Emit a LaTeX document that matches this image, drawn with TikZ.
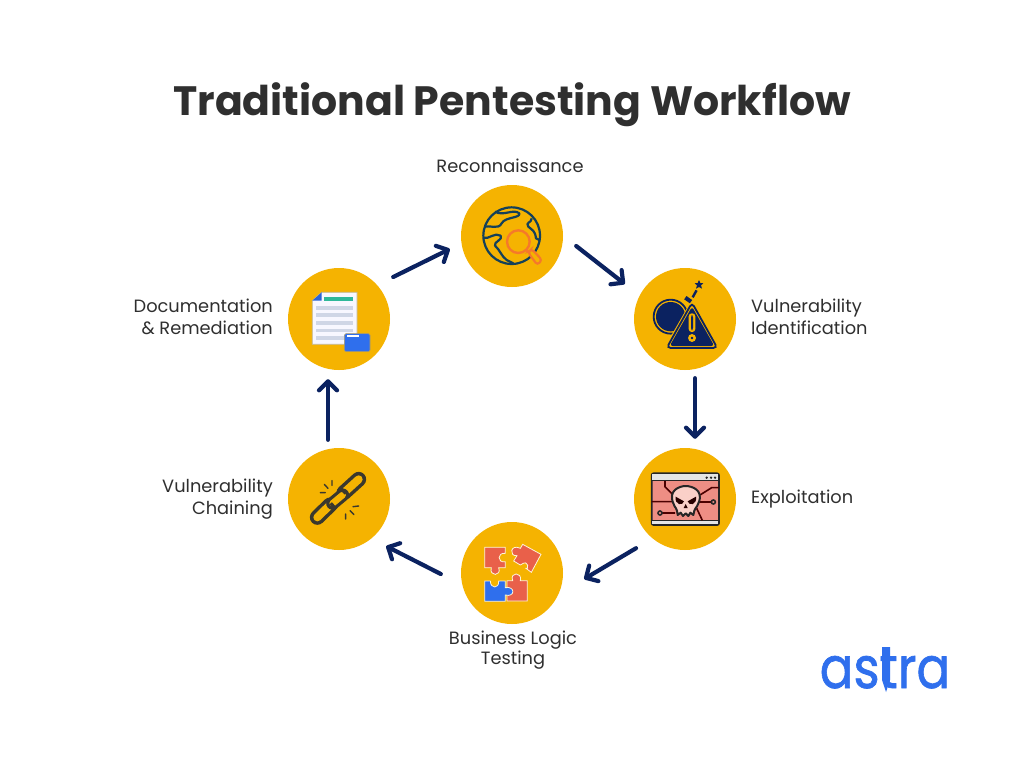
\documentclass[tikz,border=0pt]{standalone}
\usepackage{fontspec}
\usepackage{graphicx}
\setmainfont{Poppins}
\newfontfamily\logofont[FakeBold=1.2]{Poppins}
\usetikzlibrary{arrows.meta}
\definecolor{gold}{HTML}{F5B301}
\definecolor{navy}{HTML}{0B2260}
\definecolor{ink}{HTML}{2F2F2F}
\definecolor{teal}{HTML}{14405A}
\definecolor{orng}{HTML}{F5792A}
\definecolor{salmon}{HTML}{EE8E84}
\definecolor{pzred}{HTML}{E9604A}
\definecolor{blu}{HTML}{2F6FED}
\definecolor{chainc}{HTML}{3A382E}
\definecolor{skullc}{HTML}{FAD0C8}
\definecolor{mint}{HTML}{2FB89A}
\definecolor{barg}{HTML}{CFD6E6}
\tikzset{
 stepcircle/.style={circle,fill=gold,minimum size=102pt,inner sep=0pt,draw=none},
 flow/.style={draw=navy,line width=4.2pt,line cap=round,-{Straight Barb[length=9pt,width=18pt,line width=4.2pt,round]}},
 lab/.style={font=\fontsize{17.8}{22}\selectfont,text=ink,inner sep=0pt,anchor=base},
 icon/.style={scale=0.33333},
}
\begin{document}
\begin{tikzpicture}[x=1pt,y=-1pt]
\useasboundingbox (0,0) rectangle (1024,768);
\fill[white] (0,0) rectangle (1024,768);
\node[font=\fontsize{41}{46}\bfseries\selectfont,text=ink,inner sep=0pt,anchor=base] (title) at (512,115) {Traditional Pentesting Workflow};
\node[stepcircle] (c1) at (512,236) {};
\node[stepcircle] (c2) at (685,319) {};
\node[stepcircle] (c3) at (685,499) {};
\node[stepcircle] (c4) at (512,573) {};
\node[stepcircle] (c5) at (339,499) {};
\node[stepcircle] (c6) at (339,319) {};
\draw[flow] ([shift={(13,10)}]c1.east) -- ([shift={(-9,-35)}]c2.west);
\draw[flow] ([shift={(10,8)}]c2.south) -- ([shift={(10,-9)}]c3.north);
\draw[flow] ([shift={(-49,-2)}]c3.south) -- ([shift={(21,6)}]c4.east);
\draw[flow] ([shift={(-20,1)}]c4.west) -- ([shift={(-4,-4)}]c5.east |- c5.south);
\draw[flow] ([shift={(-11,-8)}]c5.north) -- ([shift={(-11,9)}]c6.south);
\draw[flow] ([shift={(3,-42)}]c6.east) -- ([shift={(-11,13)}]c1.west);
\node[lab] (t1) at (510,172) {Reconnaissance};
\node[lab,align=left,anchor=north west] (t2) at (751,299) {Vulnerability\\Identification};
\node[lab,anchor=base west] (t3) at (751,503) {Exploitation};
\node[lab,font=\fontsize{17.8}{18}\selectfont,align=center,anchor=north] (t4) at (513,631) {Business Logic\\Testing};
\node[lab,align=right,anchor=north east] (t5) at (273,479) {Vulnerability\\Chaining};
\node[lab,align=right,anchor=north east] (t6) at (273,299) {Documentation\\\& Remediation};
\node[font=\fontsize{50}{52}\logofont\selectfont,text=blu,inner sep=0pt,anchor=base] (logo) at (885,688) {\scalebox{1}[1.15]{astra}};
\fill[blu] (882,647) -- (890,647) -- (890,680) -- (886,692) -- (882,680) -- cycle;
% globe
\begin{scope}[shift={(450,175)},icon]
 \draw[teal,line width=2.2pt] (185,182) circle (85);
 \draw[teal,line width=2.2pt,line join=round] (135,110) .. controls (160,125) and (190,100) .. (208,115) .. controls (212,130) and (165,125) .. (155,145) .. controls (145,165) and (120,150) .. (103,155);
 \draw[teal,line width=2.2pt,line join=round] (245,130) .. controls (245,145) and (225,140) .. (235,155) .. controls (245,165) and (255,165) .. (258,190) -- (268,195);
 \draw[teal,line width=2.2pt,line join=round] (100,188) .. controls (115,195) and (135,170) .. (152,182) .. controls (160,195) and (130,200) .. (135,212) .. controls (150,225) and (155,245) .. (170,255) -- (190,265);
 \fill[gold] (205,200) circle (38);
 \draw[orng,line width=2.4pt] (205,200) circle (34);
 \draw[orng,line width=2.4pt] (230,226) -- (240,236);
 \draw[orng,line width=2.2pt,rounded corners=3pt,fill=gold] (234,232) -- (245,222) -- (276,255) -- (262,270) -- cycle;
\end{scope}
% bomb + warning
\begin{scope}[shift={(625,260)},icon]
 \draw[navy,line width=1.8pt] (137,170) circle (51);
 \fill[navy] (137,170) circle (44);
 \draw[navy,line width=4pt] (181,113) -- (198,125);
 \draw[navy,line width=2.4pt,dash pattern=on 8pt off 3pt] (203,112) -- (218,85);
 \fill[navy] (222,60) -- (226,69) -- (235,70) -- (228,76) -- (231,86) -- (222,81) -- (213,86) -- (216,76) -- (209,70) -- (218,69) -- cycle;
 \fill[gold,rounded corners=5pt] (201,118) -- (288,270) -- (114,270) -- cycle;
 \draw[navy,line width=1.8pt,rounded corners=4pt] (201,128) -- (277,264) -- (125,264) -- cycle;
 \fill[navy,rounded corners=3pt] (201,140) -- (268,258) -- (134,258) -- cycle;
 \fill[gold,rounded corners=3pt] (191,160) rectangle (211,216);
 \fill[navy,rounded corners=2pt] (198,166) rectangle (204,210);
 \draw[gold,line width=2.4pt] (201,234) circle (8);
\end{scope}
% skull window
\begin{scope}[shift={(625,440)},icon]
 \draw[black!85,fill=salmon,line width=1.8pt,rounded corners=2pt] (80,100) rectangle (282,255);
 \fill[black!10] (82,102) rectangle (280,122);
 \fill[black!10] (82,242) rectangle (280,253);
 \draw[black!85,line width=1.6pt] (80,122) -- (282,122) (80,242) -- (282,242);
 \fill[black!85] (245,113) circle (4) (258,113) circle (4) (270,113) circle (4);
 \draw[black!70!red,line width=1.6pt] (120,123) -- (120,140) -- (145,165) (80,185) -- (150,185) (105,219) -- (150,219) (265,186) -- (215,186) (282,143) -- (260,143) -- (225,165) (215,205) -- (232,241);
 \draw[black!85,fill=salmon,line width=1.6pt] (105,219) circle (6) (265,186) circle (6);
 \draw[black!85,fill=skullc,line width=2pt,line join=round] (145,190) .. controls (128,150) and (165,138) .. (182,138) .. controls (200,138) and (238,150) .. (220,190) .. controls (215,205) and (208,205) .. (208,212) -- (205,225) -- (196,218) -- (190,228) -- (182,220) -- (174,228) -- (167,218) -- (158,225) -- (156,212) .. controls (156,205) and (150,205) .. (145,190) -- cycle;
 \fill[black!85!red] (152,170) -- (177,184) .. controls (173,200) and (148,194) .. (152,170) -- cycle;
 \fill[black!85!red] (213,170) -- (188,184) .. controls (192,200) and (217,194) .. (213,170) -- cycle;
 \fill[black!85!red] (182,192) -- (188,204) -- (176,204) -- cycle;
\end{scope}
% puzzle
\begin{scope}[shift={(452,515)},icon]
 \draw[white!85!gold,line width=0.8pt,fill=pzred] (98,97) -- (160,97) -- (160,115) .. controls (135,112) and (135,145) .. (160,140) -- (160,158) -- (140,158) .. controls (150,185) and (110,185) .. (118,158) -- (98,158) -- cycle;
 \draw[white!85!gold,line width=0.8pt,fill=pzred] (205,100) .. controls (175,85) and (170,125) .. (195,122) -- (185,138) -- (205,150) .. controls (235,128) and (228,170) .. (222,160) -- (238,172) -- (267,118) -- (212,88) -- cycle;
 \draw[white!85!gold,line width=0.8pt,fill=pzred] (165,197) -- (182,197) .. controls (172,170) and (212,170) .. (205,197) -- (226,197) -- (226,258) -- (165,258) -- cycle;
 \draw[white!85!gold,line width=0.8pt,fill=blu] (98,198) -- (115,198) .. controls (115,222) and (142,222) .. (140,198) -- (160,198) -- (160,218) .. controls (190,212) and (190,248) .. (160,240) -- (160,259) -- (98,259) -- cycle;
\end{scope}
% chain
\begin{scope}[shift={(280,440)},icon]
 \draw[chainc,line width=15pt,line cap=round] (112,232) -- (150,195);
 \draw[gold,line width=8pt,line cap=round] (112,232) -- (150,195);
 \draw[chainc,line width=15pt,line cap=round] (192,158) -- (236,118);
 \draw[gold,line width=8pt,line cap=round] (192,158) -- (236,118);
 \draw[chainc,line width=13pt,line cap=round] (158,190) -- (188,165);
 \draw[gold,line width=6.6pt,line cap=round] (158,190) -- (188,165);
 \draw[chainc,line width=3.4pt] (178,142) -- (198,160) (152,190) -- (168,208);
 \draw[chainc,line width=1.4pt,line cap=round] (133,133) -- (144,145) (156,122) -- (156,136) (121,158) -- (136,158) (219,200) -- (236,198) (210,212) -- (222,224) (197,222) -- (197,237);
\end{scope}
% document
\begin{scope}[shift={(280,260)},icon]
 \draw[gold!40!black!40,line width=0.8pt,fill=blue!3!white] (125,97) -- (231,97) -- (231,253) -- (97,253) -- (97,122) -- cycle;
 \fill[blu!90!black] (97,122) -- (125,97) -- (125,122) -- cycle;
 \fill[mint] (133,112) rectangle (220,122);
 \foreach \yy in {138,160,184,206,228} \fill[barg] (108,\yy) rectangle (220,\yy+11);
 \draw[gold!50!black!60,line width=0.6pt,fill=blu,rounded corners=1.5pt] (193,221) rectangle (270,275);
 \fill[white] (201,225) rectangle (238,230);
\end{scope}
\end{tikzpicture}
\end{document}
